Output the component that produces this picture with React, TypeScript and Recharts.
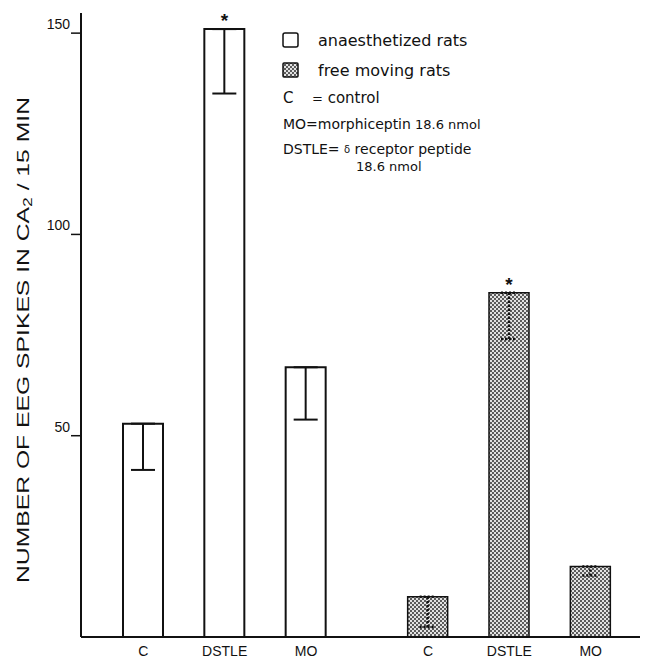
import React from "react";
import { BarChart, Bar, XAxis, YAxis, ErrorBar, Cell, LabelList } from "recharts";

const treatments = ["C", "DSTLE", "MO"];
const anaesthetizedMeans = [53, 151, 67];
const anaesthetizedErr = [11.5, 16, 13];
const freeMovingMeans = [10, 85.5, 17.5];
const freeMovingErr = [7.5, 11.5, 2.2];
const significant = [false, true, false];
const yTicks = [50, 100, 150];

type Row = {
  key: string;
  label: string;
  value: number | null;
  group: "a" | "f" | null;
  errA?: [number, number];
  errF?: [number, number];
  mark: string;
};

// every bar takes one narrow slot; one empty slot between bars, two between groups
function buildRows(): Row[] {
  const rows: Row[] = [];
  const gap = () =>
    rows.push({ key: `gap${rows.length}`, label: "", value: null, group: null, mark: "" });
  treatments.forEach((t, i) => {
    if (i > 0) gap();
    rows.push({
      key: `a${i}`,
      label: t,
      value: anaesthetizedMeans[i],
      group: "a",
      errA: [anaesthetizedErr[i], 0],
      mark: significant[i] ? "*" : "",
    });
  });
  gap();
  gap();
  treatments.forEach((t, i) => {
    if (i > 0) gap();
    rows.push({
      key: `f${i}`,
      label: t,
      value: freeMovingMeans[i],
      group: "f",
      errF: [freeMovingErr[i], 0],
      mark: significant[i] ? "*" : "",
    });
  });
  return rows;
}

const rows = buildRows();
const FONT = "'Liberation Sans', Arial, sans-serif";
const LEGEND_FONT = "'DejaVu Sans', sans-serif";

function YTick(props: any) {
  const { x, y, payload } = props;
  return (
    <g>
      <line x1={x - 10} y1={y} x2={x} y2={y} stroke="#111" strokeWidth={1.5} />
      <text x={x - 11} y={y - 4} textAnchor="end" fontSize={14} fontFamily={FONT} fill="#111">
        {payload.value}
      </text>
    </g>
  );
}

function XTick(props: any) {
  const { x, y, payload } = props;
  const row = rows.find((r) => r.key === payload.value);
  if (!row || !row.label) return null;
  return (
    <text x={x} y={y + 14} textAnchor="middle" dominantBaseline="central" fontSize={14} fontFamily={FONT} fill="#111">
      {row.label}
    </text>
  );
}

export default function App() {
  return (
    <div style={{ width: 640, height: 658, background: "#fff" }}>
      <BarChart
        width={640}
        height={658}
        data={rows}
        margin={{ top: 5, right: 0, bottom: 0, left: 0 }}
        barCategoryGap={0}
      >
        <defs>
          <pattern id="stipple" width="4" height="4" patternUnits="userSpaceOnUse">
            <rect width="4" height="4" fill="#e2e2e2" />
            <circle cx="1" cy="1" r="0.95" fill="#222" />
            <circle cx="3" cy="3" r="0.95" fill="#222" />
          </pattern>
        </defs>
        <XAxis
          dataKey="key"
          type="category"
          interval={0}
          height={29}
          padding={{ left: 42, right: 37 }}
          tickLine={false}
          tickSize={0}
          tickMargin={0}
          axisLine={{ stroke: "#111", strokeWidth: 2 }}
          tick={<XTick />}
        />
        <YAxis
          width={73}
          domain={[0, 155]}
          ticks={yTicks}
          allowDataOverflow
          tickLine={false}
          tickSize={0}
          tickMargin={0}
          axisLine={{ stroke: "#111", strokeWidth: 2 }}
          tick={<YTick />}
        />
        <Bar dataKey="value" barSize={40} stroke="#111" isAnimationActive={false}>
          {rows.map((r) => (
            <Cell
              key={r.key}
              fill={r.group === "f" ? "url(#stipple)" : "#fff"}
              strokeWidth={r.group === "f" ? 1.5 : 2}
            />
          ))}
          <ErrorBar dataKey="errA" direction="y" width={12} stroke="#111" strokeWidth={2} />
          <ErrorBar dataKey="errF" direction="y" width={8} stroke="#111" strokeWidth={2.5} strokeDasharray="2 2" />
          <LabelList dataKey="mark" position="top" offset={2} fontSize={19} fontWeight="bold" fontFamily={FONT} fill="#111" />
        </Bar>

        <text
          transform="translate(15,332) rotate(-90)"
          textAnchor="middle"
          dominantBaseline="central"
          fontSize={17}
          fontFamily={FONT}
          fill="#111"
          textLength={486}
          lengthAdjust="spacingAndGlyphs"
        >
          NUMBER OF EEG SPIKES IN CA
          <tspan dy={5} fontSize={12}>2</tspan>
          <tspan dy={-5}>{" /  15 MIN"}</tspan>
        </text>

        <g fontFamily={LEGEND_FONT} fill="#111">
          <rect x={275} y={25} width={15} height={14} rx={2} fill="#fff" stroke="#111" strokeWidth={1.5} />
          <text x={310} y={32} dominantBaseline="central" fontSize={16}>anaesthetized rats</text>
          <rect x={275} y={55} width={15} height={14} rx={1} fill="url(#stipple)" stroke="#111" strokeWidth={1.5} />
          <text x={310} y={62} dominantBaseline="central" fontSize={16}>{"free  moving rats"}</text>
          <text x={275} y={90} dominantBaseline="central" fontSize={15}>
            C<tspan x={304} fontSize={13}>=</tspan>
            <tspan fontSize={15}>{" control"}</tspan>
          </text>
          <text x={275} y={116} dominantBaseline="central" fontSize={14}>
            MO=morphiceptin<tspan fontSize={13}>{"  18.6 nmol"}</tspan>
          </text>
          <text x={275} y={141} dominantBaseline="central" fontSize={14}>
            {"DSTLE= "}
            <tspan fontSize={10}>δ</tspan>
            {" receptor peptide"}
          </text>
          <text x={348} y={158} dominantBaseline="central" fontSize={13}>18.6 nmol</text>
        </g>
      </BarChart>
    </div>
  );
}
